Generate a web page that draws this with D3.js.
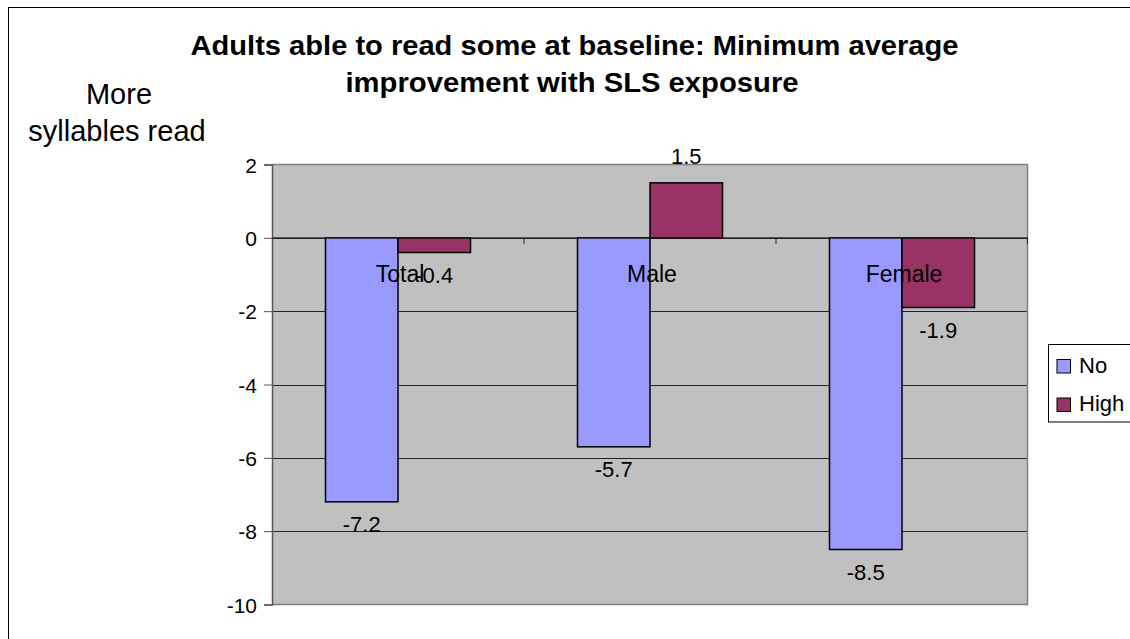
<!DOCTYPE html>
<html><head><meta charset="utf-8">
<script src="https://cdn.jsdelivr.net/npm/d3@7"></script>
<style>
html,body{margin:0;padding:0;background:#fff;}
svg text{font-family:"Liberation Sans",Arial,sans-serif;fill:#000;}
</style></head>
<body>
<svg id="chart" width="1130" height="639"></svg>
<script>
const categories = ["Total", "Male", "Female"];
const seriesNames = ["No", "High"];
const noValues = [-7.2, -5.7, -8.5];
const highValues = [-0.4, 1.5, -1.9];
const yTicks = [2, 0, -2, -4, -6, -8, -10];
const titleLines = ["Adults able to read some at baseline: Minimum average", "improvement with SLS exposure"];
const axisTitleLines = ["More", "syllables read"];
const colors = {No: "#9999FF", High: "#993366"};

const hyph = f => (d => f(d).replace("\u2212", "-"));
const fmtTick = hyph(d3.format("d"));
const fmtVal = hyph(d3.format(".1f"));

const svg = d3.select("#chart");
// outer chart border
svg.append("rect").attr("x", 8.5).attr("y", 7.5).attr("width", 1130).attr("height", 640)
  .attr("fill", "#fff").attr("stroke", "#000").attr("stroke-width", 1);

const plot = {left: 272, right: 1028, top: 164.5, bottom: 604.5};
const y = d3.scaleLinear().domain([-10, 2]).range([plot.bottom, plot.top]);
const x0 = d3.scaleBand().domain(categories).range([plot.left, plot.right]).padding(0);
const x1 = d3.scaleBand().domain(seriesNames).range([0, x0.bandwidth()]).paddingInner(0).paddingOuter(0.738);

// plot background
svg.append("rect").attr("x", plot.left).attr("y", plot.top)
  .attr("width", plot.right - plot.left).attr("height", plot.bottom - plot.top)
  .attr("fill", "#C0C0C0");

// gridlines
svg.append("g").selectAll("line").data(yTicks.filter(d => d !== -10 && d !== 2)).join("line")
  .attr("x1", plot.left).attr("x2", plot.right)
  .attr("y1", d => Math.round(y(d)) + 0.5).attr("y2", d => Math.round(y(d)) + 0.5)
  .attr("stroke", "#222").attr("stroke-width", 1);

// plot border (top/right/bottom)
svg.append("path")
  .attr("d", `M${plot.left},${plot.top}H${plot.right - 0.5}V${plot.bottom}H${plot.left}`)
  .attr("fill", "none").attr("stroke", "#808080").attr("stroke-width", 1.5);

// y axis
const yAxis = d3.axisLeft(y).tickValues(yTicks).tickSize(8).tickPadding(7).tickFormat(fmtTick);
const gy = svg.append("g").attr("transform", `translate(${plot.left},0)`).call(yAxis);
gy.select(".domain").attr("stroke", "#555").attr("stroke-width", 1.5);
gy.selectAll(".tick line").attr("stroke", "#555");
gy.selectAll(".tick text").attr("font-size", 21).attr("fill", "#000")
  .style("font-family", '"Liberation Sans",Arial,sans-serif').attr("dy", "0.36em");

// bars
const data = categories.map((c, i) => ({cat: c, vals: [{s: "No", v: noValues[i]}, {s: "High", v: highValues[i]}]}));
const groups = svg.append("g").selectAll("g").data(data).join("g")
  .attr("transform", d => `translate(${x0(d.cat)},0)`);
groups.selectAll("rect").data(d => d.vals).join("rect")
  .attr("x", d => x1(d.s)).attr("width", x1.bandwidth())
  .attr("y", d => y(Math.max(0, d.v))).attr("height", d => Math.abs(y(d.v) - y(0)))
  .attr("fill", d => colors[d.s]).attr("stroke", "#000").attr("stroke-width", 1.5);

// zero axis line with category ticks
svg.append("line").attr("x1", plot.left).attr("x2", plot.right)
  .attr("y1", y(0)).attr("y2", y(0)).attr("stroke", "#222").attr("stroke-width", 1);
svg.append("g").selectAll("line").data(categories.slice(1).concat(["__end"])).join("line")
  .attr("x1", (d, i) => plot.left + x0.step() * (i + 1) - (i === 2 ? 0.5 : 0))
  .attr("x2", (d, i) => plot.left + x0.step() * (i + 1) - (i === 2 ? 0.5 : 0))
  .attr("y1", y(0)).attr("y2", y(0) + 6).attr("stroke", "#222").attr("stroke-width", 1);

// data labels
groups.selectAll("text.val").data(d => d.vals).join("text").attr("class", "val")
  .attr("x", d => x1(d.s) + x1.bandwidth() / 2)
  .attr("y", d => d.v >= 0 ? y(d.v) - 18.5 : y(d.v) + 30.5)
  .attr("text-anchor", "middle").attr("font-size", 22)
  .text(d => fmtVal(d.v));

// category labels
groups.append("text").attr("x", x0.bandwidth() / 2 + 2).attr("y", 281.5)
  .attr("text-anchor", "middle").attr("font-size", 23).text(d => d.cat);

// title
const tl = [{t: titleLines[0], x: 574.5, y: 54.5, w: 768}, {t: titleLines[1], x: 572, y: 91.5, w: 453}];
svg.append("g").selectAll("text").data(tl).join("text")
  .attr("x", d => d.x).attr("y", d => d.y).attr("text-anchor", "middle")
  .attr("font-size", 27).attr("font-weight", "bold")
  .attr("textLength", d => d.w).attr("lengthAdjust", "spacingAndGlyphs")
  .text(d => d.t);

// axis title
const at = [{t: axisTitleLines[0], x: 119, y: 104}, {t: axisTitleLines[1], x: 117, y: 140.5}];
svg.append("g").selectAll("text").data(at).join("text")
  .attr("x", d => d.x).attr("y", d => d.y).attr("text-anchor", "middle")
  .attr("font-size", 29).text(d => d.t);

// legend
const lg = svg.append("g");
lg.append("rect").attr("x", 1048.5).attr("y", 344.5).attr("width", 100).attr("height", 77.5)
  .attr("fill", "#fff").attr("stroke", "#000").attr("stroke-width", 1);
const li = lg.selectAll("g").data(seriesNames).join("g")
  .attr("transform", (d, i) => `translate(0,${i * 38.5})`);
li.append("rect").attr("x", 1057).attr("y", 359.5).attr("width", 13.5).attr("height", 13.5)
  .attr("fill", d => colors[d]).attr("stroke", "#000").attr("stroke-width", 1);
li.append("text").attr("x", 1079).attr("y", 372.5).attr("font-size", 22).text(d => d);
</script>
</body></html>
